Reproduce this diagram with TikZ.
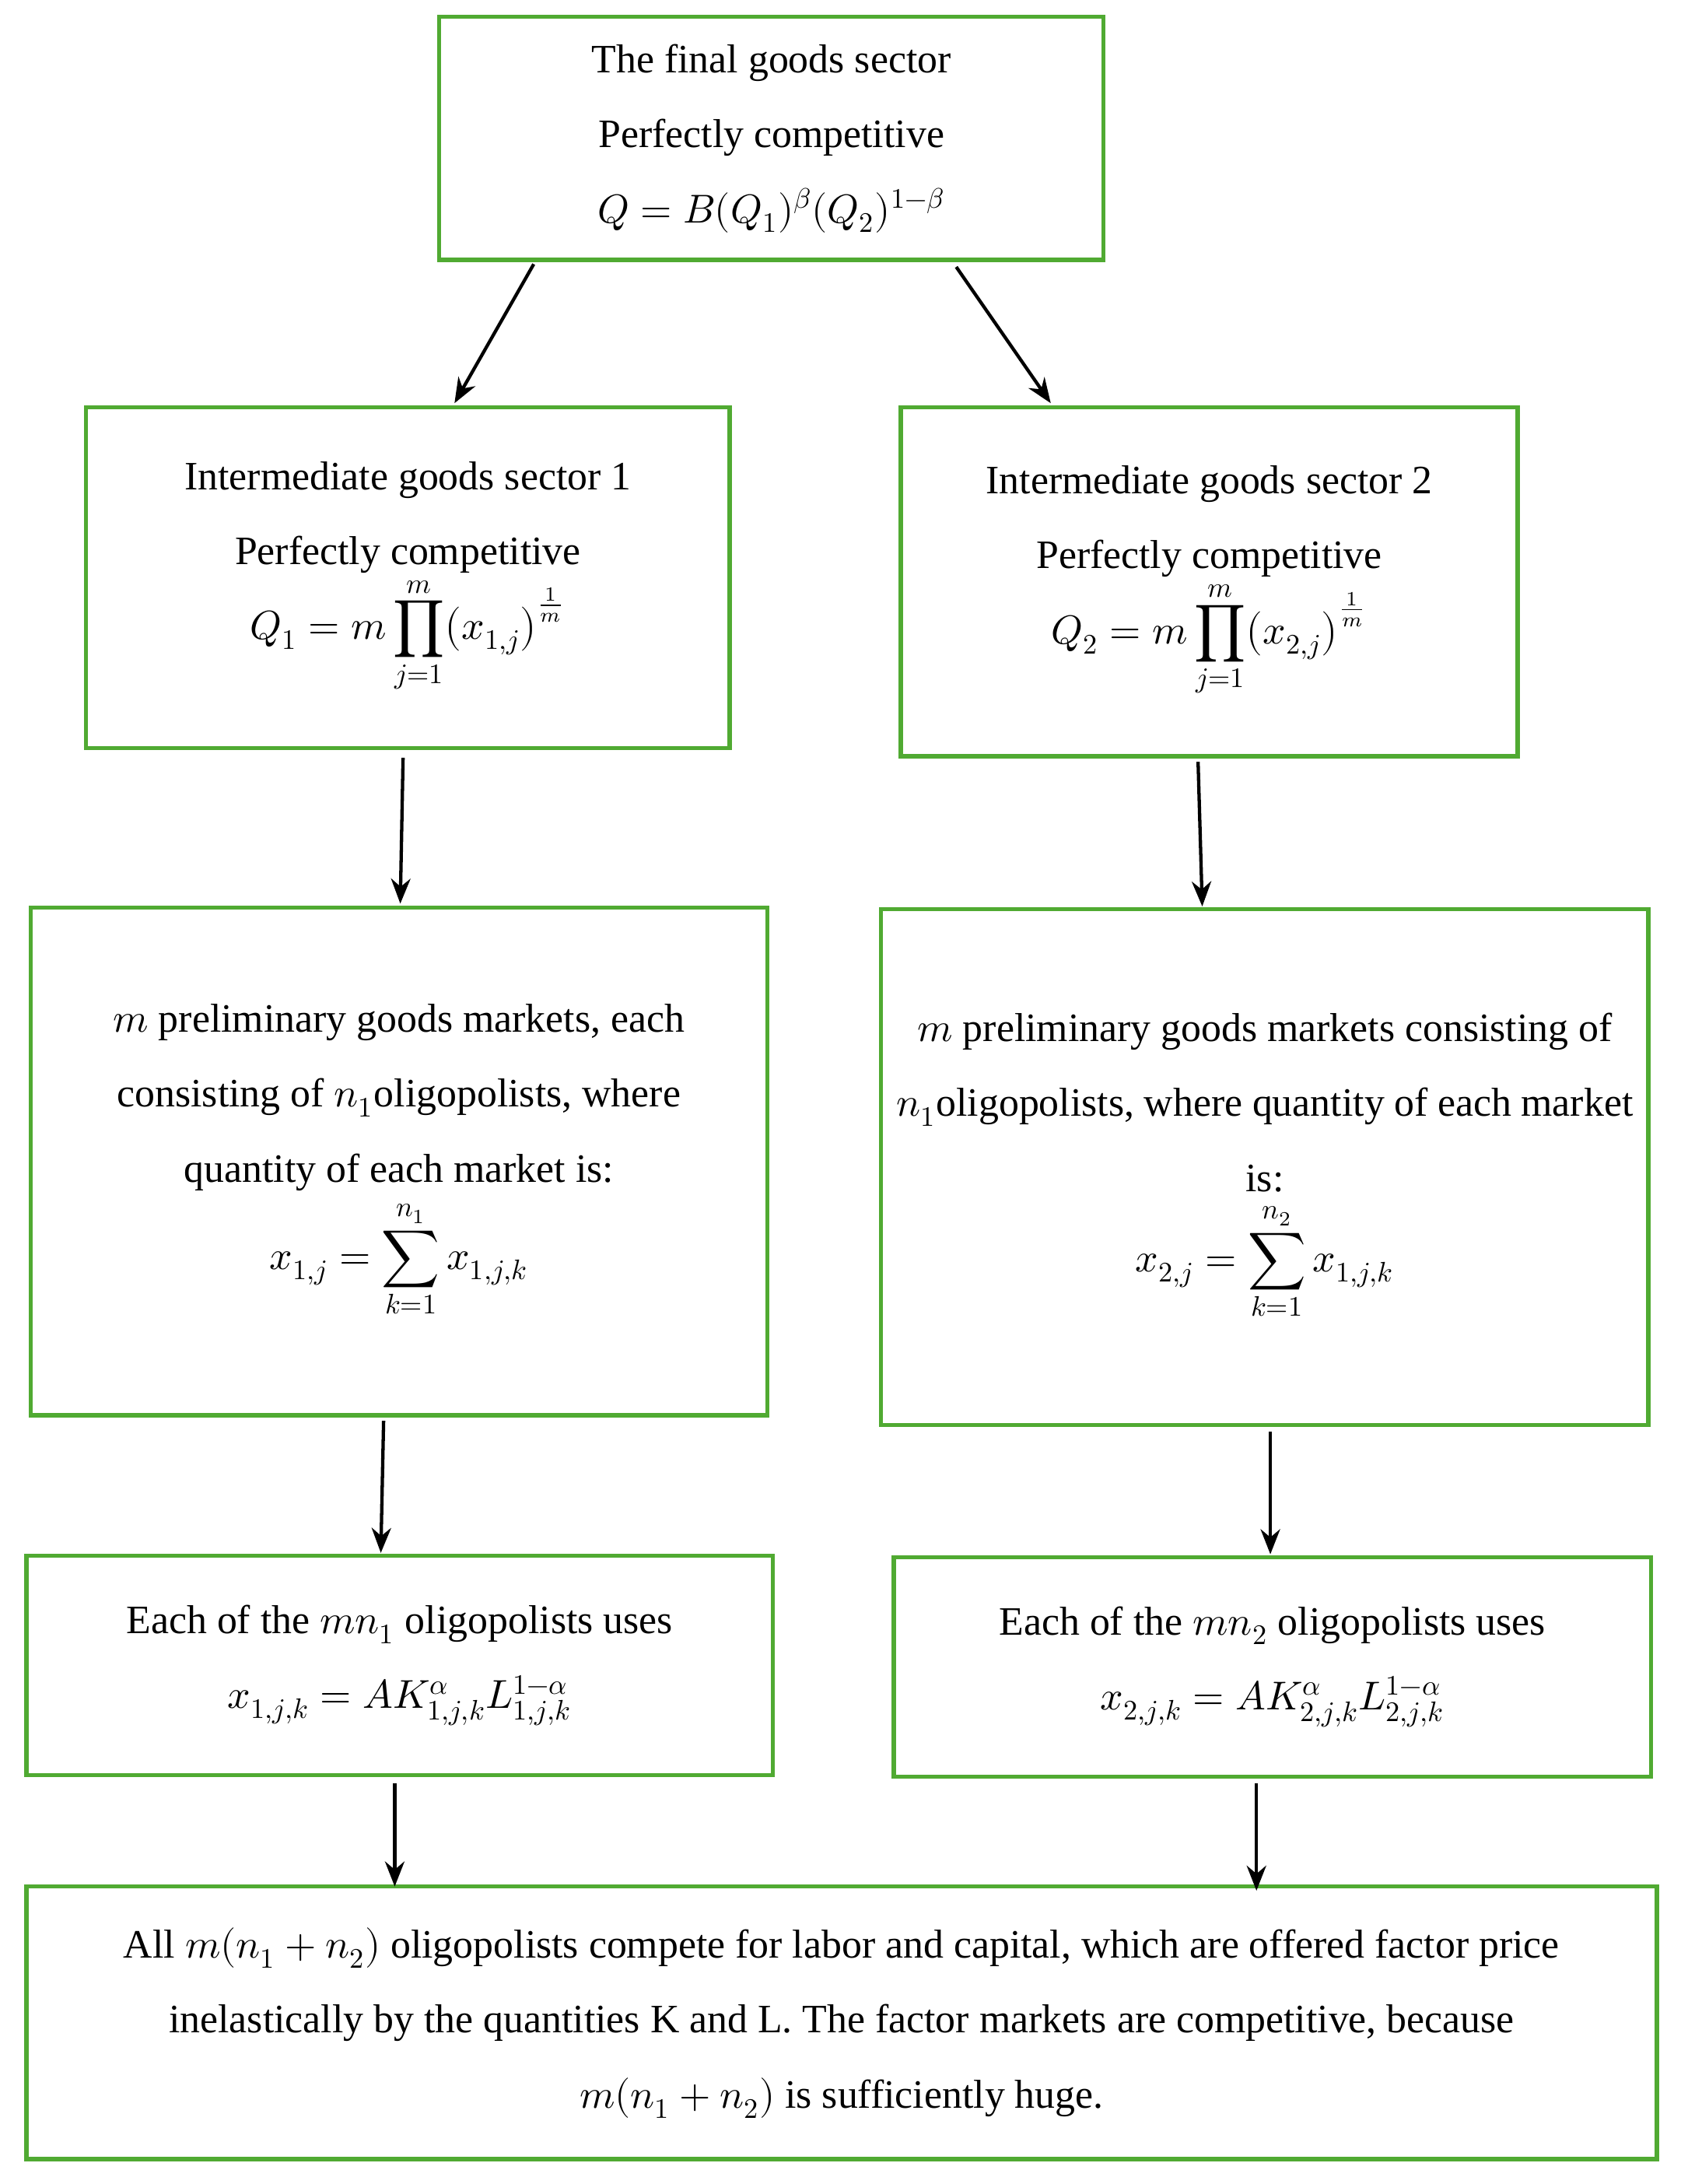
\documentclass[tikz,border=0pt]{standalone}
\usepackage{amsmath}
\usepackage{fontspec}
\usepackage{unicode-math}
\setmainfont{Liberation Serif}
\setmathfont{latinmodern-math.otf}
\usetikzlibrary{arrows.meta}
\definecolor{gr}{RGB}{80,170,50}
\begin{document}
\begin{tikzpicture}[x=0.5pt,y=-0.5pt,
 box/.style={draw=gr,line width=1.5pt,align=flush center,inner sep=2pt,font=\fontsize{14.5}{27}\selectfont},
 arr/.style={-{Stealth[length=9pt,width=7pt]},line width=1.2pt}]
\useasboundingbox (0,0) rectangle (1209,1571);
\node[box,minimum width=239pt,minimum height=87.5pt,text width=230pt] (top) at (555,99.5)
 {The final goods sector\\Perfectly competitive\\$Q=B(Q_1)^{\beta}(Q_2)^{1-\beta}$};
\node[box,minimum width=231.5pt,minimum height=122.5pt,text width=225pt] (ig1) at (293.5,415.5)
 {Intermediate goods sector 1\\Perfectly competitive\\[0pt]$\displaystyle Q_1=m\prod_{j=1}^{m}\bigl(x_{1,j}\bigr)^{\frac{1}{m}}$};
\node[box,minimum width=222pt,minimum height=125.5pt,text width=215pt] (ig2) at (870,418.5)
 {Intermediate goods sector 2\\Perfectly competitive\\[0pt]$\displaystyle Q_2=m\prod_{j=1}^{m}\bigl(x_{2,j}\bigr)^{\frac{1}{m}}$};
\node[box,minimum width=265pt,minimum height=182.5pt,text width=250pt] (pm1) at (287,835.5)
 {$m$ preliminary goods markets, each consisting of $n_1$oligopolists, where quantity of each market is:\\[2pt]$\displaystyle x_{1,j}=\sum_{k=1}^{n_1}x_{1,j,k}$};
\node[box,minimum width=276pt,minimum height=185.5pt,text width=265pt] (pm2) at (910,839.5)
 {$m$ preliminary goods markets consisting of $n_1$oligopolists, where quantity of each market is:\\[2pt]$\displaystyle x_{2,j}=\sum_{k=1}^{n_2}x_{1,j,k}$};
\node[box,minimum width=268.5pt,minimum height=79pt,text width=260pt] (e1) at (287.5,1198)
 {Each of the $mn_1$ oligopolists uses\\$x_{1,j,k}=AK_{1,j,k}^{\alpha}L_{1,j,k}^{1-\alpha}$};
\node[box,minimum width=272.5pt,minimum height=79pt,text width=265pt] (e2) at (915.5,1199)
 {Each of the $mn_2$ oligopolists uses\\$x_{2,j,k}=AK_{2,j,k}^{\alpha}L_{2,j,k}^{1-\alpha}$};
\node[box,minimum width=586.5pt,minimum height=98pt,text width=575pt] (bot) at (605.5,1455)
 {All $m(n_1+n_2)$ oligopolists compete for labor and capital, which are offered factor price\\inelastically by the quantities K and L. The factor markets are competitive, because\\$m(n_1+n_2)$ is sufficiently huge.};
\coordinate (a1) at (384,190); \coordinate (b1) at (327,290);
\coordinate (a2) at (688,192); \coordinate (b2) at (756,290);
\coordinate (a3) at (290,545); \coordinate (b3) at (288,650);
\coordinate (a4) at (862,548); \coordinate (b4) at (865,652);
\coordinate (a5) at (276,1022); \coordinate (b5) at (274,1117);
\coordinate (a6) at (914,1030); \coordinate (b6) at (914,1118);
\coordinate (a7) at (284,1283); \coordinate (b7) at (284,1357);
\coordinate (a8) at (904,1283); \coordinate (b8) at (904,1360);
\foreach \i in {1,...,8} \draw[arr] (a\i) -- (b\i);
\end{tikzpicture}
\end{document}
